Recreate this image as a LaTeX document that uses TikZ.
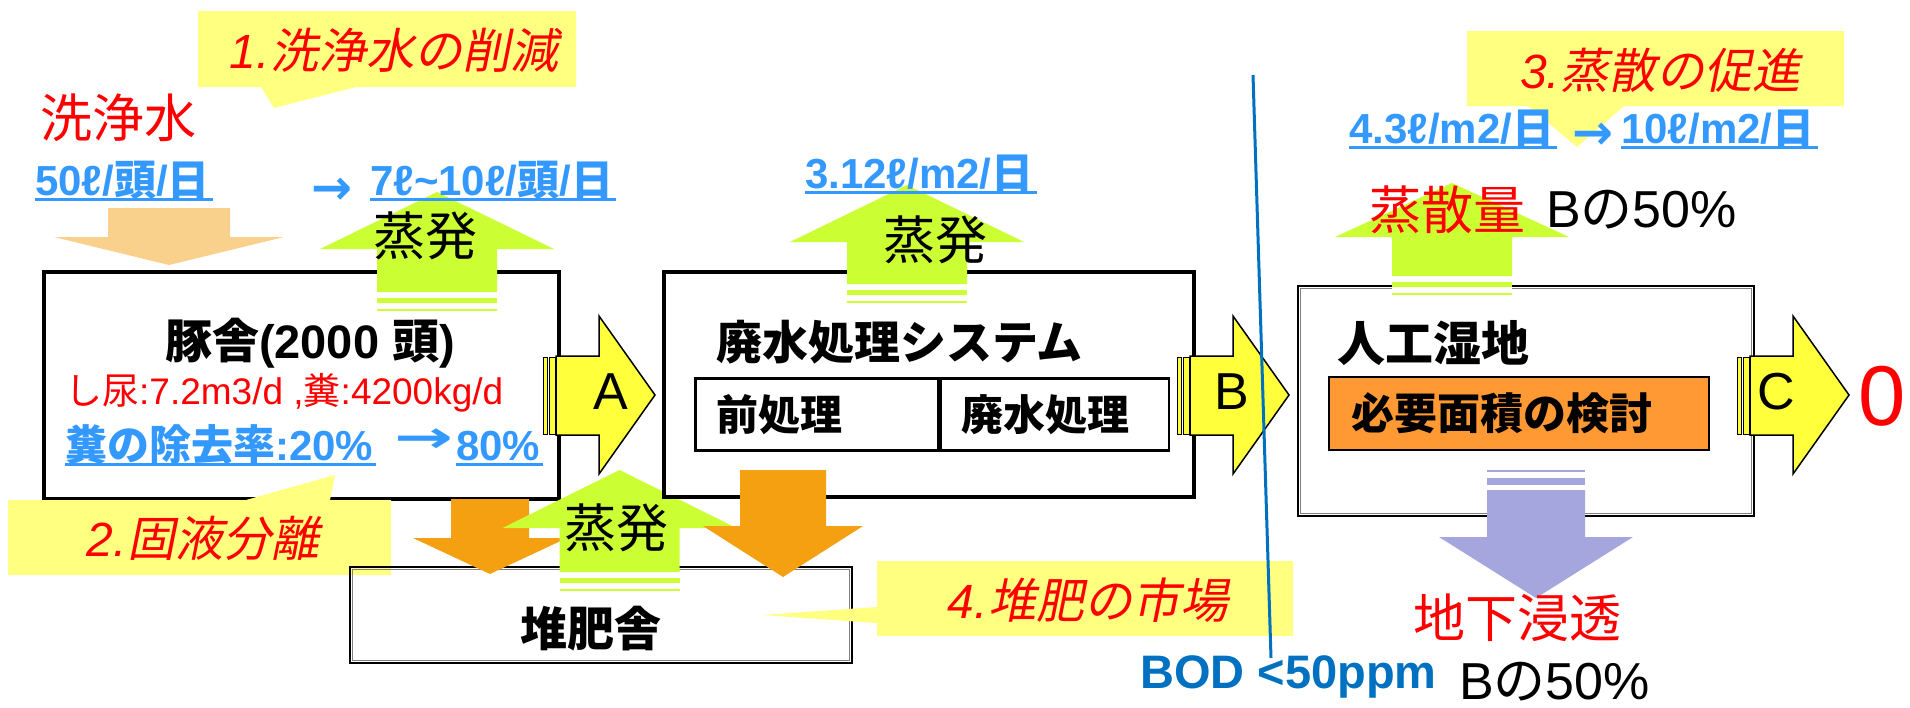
\documentclass[tikz,border=0pt]{standalone}
\usepackage{fontspec}
\setmainfont{Liberation Sans}
\newfontfamily\jp{Noto Sans CJK JP}
\newfontfamily\jpit{Noto Sans CJK JP}[FakeSlant=0.2]
\newfontfamily\arrowfont{DejaVu Sans}
\newfontfamily\widearrowfont{DejaVu Sans}[FakeStretch=1.6]
\newcommand{\J}[1]{{\jp #1}}
\newcommand{\JI}[1]{{\jpit\upshape #1}}
\newcommand{\fs}[1]{\fontsize{#1}{#1}\selectfont}

\definecolor{CalloutYellow}{HTML}{FFFF80}
\definecolor{EvapGreen}{HTML}{CCFF33}
\definecolor{FlowYellow}{HTML}{FFFF3C}
\definecolor{WashOrange}{HTML}{F9D08C}
\definecolor{ManureOrange}{HTML}{F4A010}
\definecolor{AreaOrange}{HTML}{FF9933}
\definecolor{SeepPurple}{HTML}{A6A6DE}
\definecolor{ValueBlue}{HTML}{3399FF}
\definecolor{LineBlue}{HTML}{0070C0}

\tikzset{
	BoxStyle/.style = {draw, line width=4pt, fill=white, inner sep=0pt},
	DoubleBoxStyle/.style = {draw, line width=2.5pt, inner sep=0pt},
	InnerLineStyle/.style = {draw=gray, line width=1.2pt},
	CellStyle/.style = {draw, line width=2.5pt, inner sep=0pt},
	AreaStyle/.style = {draw, line width=2pt, fill=AreaOrange, inner sep=0pt},
	FlowStyle/.style = {draw, line width=1.5pt, fill=FlowYellow},
	EvapStyle/.style = {fill=EvapGreen},
	WashStyle/.style = {fill=WashOrange},
	ManureStyle/.style = {fill=ManureOrange},
	SeepStyle/.style = {fill=SeepPurple},
	CalloutStyle/.style = {fill=CalloutYellow},
	TextStyle/.style = {inner sep=0pt},
	ValueStyle/.style = {inner sep=0pt, text=ValueBlue, font=\fs{42}\bfseries},
	NoteStyle/.style = {inner sep=0pt, text=red, font=\fs{48}\itshape},
	UnderlineStyle/.style = {draw=ValueBlue, line width=3pt}
}

% block arrow: style, x, shaft half, head half, tip y, head y, tail y
\newcommand{\vblock}[7]{%
	\fill[#1] (#2,#5) -- ({#2+#4},#6) -- ({#2+#3},#6) -- ({#2+#3},#7) -- ({#2-#3},#7) -- ({#2-#3},#6) -- ({#2-#4},#6) -- cycle;}
\newcommand{\evapup}[4]{%
	\fill[white] ({#1-60},#4) rectangle ({#1+60},{#4+19});
	\vblock{EvapStyle}{#1}{60}{117}{#2}{#3}{#4}
	\fill[EvapStyle] ({#1-60},{#4+6}) rectangle ({#1+60},{#4+11});
	\fill[EvapStyle] ({#1-60},{#4+17}) rectangle ({#1+60},{#4+19});}
\newcommand{\flowarrow}[4]{%
	\begin{scope}[xshift=#2]
		\filldraw[FlowStyle, line width=1pt] (543,357) rectangle (547,434);
		\filldraw[FlowStyle, line width=1pt] (549,357) rectangle (555,434);
		\filldraw[FlowStyle] (556,356) -- (599,356) -- (599,316) -- (655,395) -- (599,474) -- (599,435) -- (556,435) -- cycle;
		\node[TextStyle, font=\fs{52}] (#1) at (#3,392) {#4};
	\end{scope}}
\newcommand{\ulnode}[1]{\draw[UnderlineStyle] ([yshift=-4.5pt]#1.base west) -- ([xshift=3pt,yshift=-4.5pt]#1.base east);}

\begin{document}
\begin{tikzpicture}[x=1pt, y=-1pt]
	\useasboundingbox (0,0) rectangle (1910,707);
	%\draw[red] (0,0) rectangle (1910,707);
	\node[BoxStyle, minimum width=515pt, minimum height=227pt] (pighouse) at (301.5,385.5) {};
	\fill[CalloutStyle] (8,500) -- (246,500) -- (335,475) -- (330,500) -- (391,500) -- (391,575) -- (8,575) -- cycle;
	\node[DoubleBoxStyle, minimum width=502pt, minimum height=96pt] (compost) at (601,615) {};
	\draw[InnerLineStyle] ([shift={(4pt,-3.5pt)}]compost.north west) rectangle ([shift={(-4pt,3.5pt)}]compost.south east);
	\vblock{ManureStyle}{490}{39}{77}{574}{538}{499}
	\evapup{619.5}{470}{528}{572}
	\node[BoxStyle, minimum width=530pt, minimum height=225pt] (wwtsys) at (929,384.5) {};
	\node[CellStyle, minimum width=243pt, minimum height=72pt, anchor=north west] (precell) at (694,377) {};
	\node[CellStyle, minimum width=228pt, minimum height=72pt, anchor=west] (maincell) at (precell.east) {};
	\vblock{ManureStyle}{783}{43}{80}{577}{526}{470}
	\node[DoubleBoxStyle, minimum width=456pt, minimum height=230pt] (wetland) at (1526,401) {};
	\draw[InnerLineStyle] ([shift={(4pt,-3.5pt)}]wetland.north west) rectangle ([shift={(-4pt,3.5pt)}]wetland.south east);
	\node[AreaStyle, minimum width=380pt, minimum height=73pt] (area) at (1519,413.5) {};
	\vblock{WashStyle}{169}{61}{115}{265}{237}{208}
	\flowarrow{flowA}{0}{611}{A}
	\flowarrow{flowB}{634}{598}{B}
	\flowarrow{flowC}{1194}{582}{C}
	\evapup{437}{192}{249}{292}
	\evapup{907}{185}{242}{284}
	\evapup{1452}{183}{237}{276}
	\fill[white] (1487,470) rectangle (1585,490);
	\fill[SeepStyle] (1487,470) rectangle (1585,472);
	\fill[SeepStyle] (1487,478) rectangle (1585,485);
	\vblock{SeepStyle}{1536}{49}{97}{598}{537}{490}
	\fill[CalloutStyle] (198,11) -- (576,11) -- (576,87) -- (356,87) -- (274,108) -- (261,87) -- (198,87) -- cycle;
	\fill[CalloutStyle] (1467,31) -- (1844,31) -- (1844,106) -- (1624,106) -- (1577,147) -- (1528,106) -- (1467,106) -- cycle;
	\fill[CalloutStyle] (877,561) -- (1293,561) -- (1293,636) -- (877,636) -- (877,623) -- (763,615) -- (877,607) -- cycle;

	\node[NoteStyle] (note1) at (394,50) {1.\JI{洗浄水の削減}};
	\node[NoteStyle] (note2) at (203,538) {2.\JI{固液分離}};
	\node[NoteStyle] (note3) at (1660,70) {3.\JI{蒸散の促進}};
	\node[NoteStyle] (note4) at (1088,600) {4.\JI{堆肥の市場}};

	\node[TextStyle, text=red, font=\fs{52}] (wash) at (118,118) {\J{洗浄水}};
	\node[ValueStyle, anchor=base west] (washold) at (35,195) {50ℓ/\J{頭}/\J{日}};
	\node[ValueStyle, font=\fs{49}\bfseries\arrowfont] (washto) at (332,191) {→};
	\node[ValueStyle, anchor=base west] (washnew) at (370,195) {7ℓ\textasciitilde10ℓ/\J{頭}/\J{日}};
	\ulnode{washold}
	\ulnode{washnew}
	\node[TextStyle, font=\fs{52}] (evap1) at (425,236) {\J{蒸発}};
	\node[TextStyle, font=\fs{52}] (evap2) at (935,240) {\J{蒸発}};
	\node[TextStyle, font=\fs{52}] (evap4) at (616,528) {\J{蒸発}};
	\node[ValueStyle, anchor=base west] (evaprate) at (805,188) {3.12ℓ/m2/\J{日}};
	\ulnode{evaprate}

	\node[TextStyle, font=\fs{47}\bfseries] (pigtitle) at (310,343) {\J{豚舎}(2000 \J{頭})};
	\node[TextStyle, text=red, font=\fs{37}, anchor=west] (pigload) at (65,393) {\J{し尿}:7.2m3/d ,\J{糞}:4200kg/d};
	\node[ValueStyle, anchor=base west] (sepold) at (65,460) {\J{糞の除去率}:20\%};
	\node[ValueStyle, font=\fs{44}\bfseries\widearrowfont] (septo) at (424,441) {→};
	\node[ValueStyle, anchor=base west] (sepnew) at (456,460) {80\%};
	\ulnode{sepold}
	\ulnode{sepnew}

	\node[TextStyle, font=\fs{46}\bfseries, anchor=west] (wwttitle) at (716,342) {\J{廃水処理システム}};
	\node[TextStyle, font=\fs{42}\bfseries, anchor=west] (pretext) at ([xshift=22pt]precell.west) {\J{前処理}};
	\node[TextStyle, font=\fs{42}\bfseries, anchor=west] (maintext) at ([xshift=22pt]maincell.west) {\J{廃水処理}};
	\node[TextStyle, font=\fs{47}\bfseries] (composttext) at (591,629) {\J{堆肥舎}};

	\node[ValueStyle, anchor=base west] (etold) at (1349,143) {4.3ℓ/m2/\J{日}};
	\node[ValueStyle, font=\fs{49}\bfseries\arrowfont] (etto) at (1593,136) {→};
	\node[ValueStyle, anchor=base west] (etnew) at (1621,143) {10ℓ/m2/\J{日}};
	\ulnode{etold}
	\ulnode{etnew}
	\node[TextStyle, text=red, font=\fs{52}] (etlabel) at (1447,210) {\J{蒸散量}};
	\node[TextStyle, font=\fs{52}, anchor=west] (etshare) at (1546,210) {B\J{の}50\%};
	\node[TextStyle, font=\fs{48}\bfseries, anchor=west] (wettitle) at (1337,343) {\J{人工湿地}};
	\node[TextStyle, font=\fs{43}\bfseries, anchor=west] (areatext) at ([xshift=23pt]area.west) {\J{必要面積の検討}};
	\node[TextStyle, text=red, font=\fs{85}] (zero) at (1882,396) {0};
	\node[TextStyle, text=red, font=\fs{52}] (seeplabel) at (1517,618) {\J{地下浸透}};
	\node[TextStyle, font=\fs{52}, anchor=west] (seepshare) at (1459,682) {B\J{の}50\%};
	\node[TextStyle, text=LineBlue, font=\fs{47}\bfseries, anchor=west] (bod) at (1140,677) {BOD <50ppm};

	\coordinate (limtop) at (1253,75);
	\coordinate (limbot) at (1271,658);
	\draw[LineBlue, line width=3pt] (limtop) -- (limbot);
\end{tikzpicture}
\end{document}
